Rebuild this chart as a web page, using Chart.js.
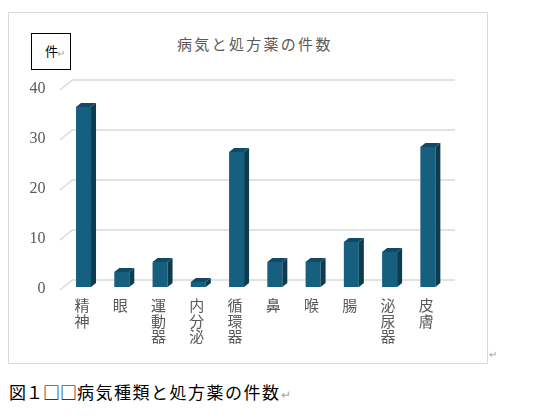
<!DOCTYPE html>
<html><head><meta charset="utf-8">
<script src="https://cdn.jsdelivr.net/npm/chart.js@4/dist/chart.umd.min.js"></script>
<style>
html,body{margin:0;padding:0;background:#fff;width:554px;height:417px;overflow:hidden;}
body{position:relative;font-family:"Noto Sans CJK JP","Noto Sans",sans-serif;}
#frame{position:absolute;left:8px;top:12px;width:478px;height:350px;border:1px solid #d9d9d9;box-sizing:content-box;}
#unit{position:absolute;left:31px;top:33px;width:38px;height:35px;border:1px solid #000;}
#unit span.k{position:absolute;left:13px;top:10px;font-size:13px;line-height:14px;color:#000;}
.ret{color:#a6a6a6;font-size:10px;}
#unit span.r{position:absolute;left:25px;top:14px;line-height:10px;}
#title{position:absolute;left:177px;top:36px;font-size:15px;line-height:16px;letter-spacing:2.3px;color:#595959;white-space:nowrap;}
#ret2{position:absolute;left:489px;top:349px;line-height:10px;}
#caption{position:absolute;left:9px;top:383px;font-size:17px;line-height:18px;color:#000;white-space:nowrap;}
#caption .t{letter-spacing:1.5px;}
#wrap{position:absolute;left:0;top:0;width:554px;height:417px;}
canvas{display:block;}
</style></head>
<body>
<div id="frame"></div>
<div id="unit"><span class="k">件</span><span class="ret r">↵</span></div>
<div id="title">病気と処方薬の件数</div>
<div id="ret2" class="ret">↵</div>
<div id="caption">図１□□<span class="t">病気種類と処方薬の件数</span><span class="ret" style="font-size:12px">↵</span></div>
<div id="wrap"><canvas id="c" width="554" height="417"></canvas></div>
<script>
const categories = ['精神','眼','運動器','内分泌','循環器','鼻','喉','腸','泌尿器','皮膚'];
const counts = [36, 3, 5, 1, 27, 5, 5, 9, 7, 28];
const yTickValues = [0, 10, 20, 30, 40];

const FRONT = '#175f7e', SIDE = '#0d3b50', TOP = '#114a64';
const DX = 5, DY = 4;

const depth3d = {
  id: 'depth3d',
  beforeDatasetsDraw(chart) {
    const {ctx, chartArea: a, scales: {y}} = chart;
    ctx.save();
    ctx.strokeStyle = '#d9d9d9';
    ctx.lineWidth = 1.3;
    y.ticks.forEach(t => {
      const py = y.getPixelForValue(t.value);
      ctx.beginPath();
      ctx.moveTo(a.left - 4.5, py + 3);
      ctx.lineTo(a.left + 8, py - 7);
      ctx.lineTo(a.right + 8, py - 7);
      ctx.stroke();
    });
    ctx.restore();
  },
  afterDatasetsDraw(chart) {
    const {ctx} = chart;
    const meta = chart.getDatasetMeta(0);
    ctx.save();
    meta.data.forEach(bar => {
      const {x, y, base, width} = bar.getProps(['x', 'y', 'base', 'width'], true);
      const l = x - width / 2, r = x + width / 2;
      ctx.fillStyle = SIDE;
      ctx.beginPath();
      ctx.moveTo(r, y); ctx.lineTo(r + DX, y - DY); ctx.lineTo(r + DX, base - DY); ctx.lineTo(r, base);
      ctx.closePath(); ctx.fill();
      ctx.fillStyle = TOP;
      ctx.beginPath();
      ctx.moveTo(l, y); ctx.lineTo(l + DX, y - DY); ctx.lineTo(r + DX, y - DY); ctx.lineTo(r, y);
      ctx.closePath(); ctx.fill();
    });
    ctx.restore();
  }
};

new Chart(document.getElementById('c'), {
  type: 'bar',
  data: {
    labels: categories,
    datasets: [{
      data: counts,
      backgroundColor: FRONT,
      borderWidth: 0,
      categoryPercentage: 1,
      barPercentage: 0.392
    }]
  },
  options: {
    responsive: false,
    animation: false,
    devicePixelRatio: 1,
    layout: {padding: {left: 0, top: 87, right: 107, bottom: 0}},
    plugins: {legend: {display: false}, tooltip: {enabled: false}, title: {display: false}},
    scales: {
      x: {
        grid: {display: false, drawTicks: false},
        border: {display: false},
        afterFit: s => { s.height = 130; },
        ticks: {
          autoSkip: false, maxRotation: 0, minRotation: 0, padding: 11, labelOffset: -1.5,
          color: '#595959',
          font: {family: '"Noto Sans CJK JP"', size: 15, lineHeight: 1.03},
          callback: function(v) { return Array.from(this.getLabelForValue(v)); }
        }
      },
      y: {
        min: 0, max: 40,
        afterFit: s => { s.width = 64.4; },
        afterBuildTicks: s => { s.ticks = yTickValues.map(v => ({value: v})); },
        grid: {display: false, drawTicks: false},
        border: {display: false},
        ticks: {
          padding: 19, labelOffset: 2, color: '#595959',
          font: {family: '"Liberation Serif"', size: 16}
        }
      }
    }
  },
  plugins: [depth3d]
});
</script>
</body></html>
